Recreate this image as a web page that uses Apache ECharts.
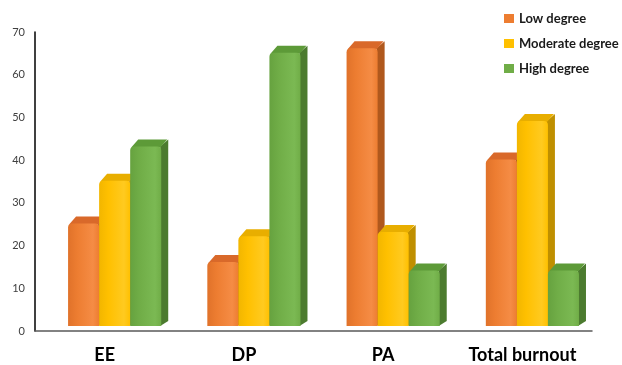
<!DOCTYPE html>
<html>
<head>
<meta charset="utf-8">
<script src="https://cdn.jsdelivr.net/npm/echarts@6/dist/echarts.min.js"></script>
<style>
html,body{margin:0;padding:0;background:#fff;}
#main{width:622px;height:365px;}
</style>
</head>
<body>
<div id="main"></div>
<script>
const categories = ['EE', 'DP', 'PA', 'Total burnout'];
const seriesNames = ['Low degree', 'Moderate degree', 'High degree'];
const lowDegree = [24, 15, 65, 39];
const moderateDegree = [34, 21, 22, 48];
const highDegree = [42, 64, 13, 13];

const palettes = [
  { base: '#ED7D31', light: '#F58C45', dark: '#E0722A', side: '#B0581D', top: '#D9692A' },
  { base: '#FFC000', light: '#FFCA20', dark: '#F2B600', side: '#BF8F00', top: '#E8AE00' },
  { base: '#70AD47', light: '#7BB953', dark: '#66A23F', side: '#4C7B2F', top: '#5D9A38' }
];

function makeRender(idx) {
  const pal = palettes[idx];
  return function (params, api) {
    const cat = api.value(0);
    const v = api.value(1);
    const base = api.coord([cat, 0]);
    const top = api.coord([cat, v]);
    const band = api.size([1, 0])[0];
    const w = band * 0.223;
    const shiftX = band * 0.072;
    const lift = 5;
    const d = 7;
    const x0 = base[0] + shiftX - 1.5 * w + idx * w;
    const x1 = x0 + w;
    const yB = base[1] - lift;
    const yT = top[1] - lift;
    const frontGrad = new echarts.graphic.LinearGradient(0, 0, 1, 0, [
      { offset: 0, color: pal.dark },
      { offset: 0.3, color: pal.base },
      { offset: 0.8, color: pal.light },
      { offset: 1, color: pal.base }
    ]);
    return {
      type: 'group',
      children: [
        {
          type: 'polygon',
          shape: { points: [[x1 - 1, yT], [x1 + d, yT - d], [x1 + d, yB - d + 2], [x1 - 1, yB]] },
          style: { fill: pal.side }
        },
        {
          type: 'polygon',
          shape: { points: [[x0 + 1, yT + 1], [x0 + d + 1, yT - d], [x1 + d - 1, yT - d], [x1 - 1, yT + 1]] },
          style: { fill: pal.top }
        },
        {
          type: 'rect',
          shape: { x: x0, y: yT, width: w, height: yB - yT, r: [4, 4, 0, 0] },
          style: { fill: frontGrad }
        }
      ]
    };
  };
}

const dataSets = [lowDegree, moderateDegree, highDegree];
const series = dataSets.map(function (arr, i) {
  return {
    name: seriesNames[i],
    type: 'custom',
    renderItem: makeRender(i),
    itemStyle: { color: palettes[i].base },
    encode: { x: 0, y: 1 },
    data: arr.map(function (v, j) { return [j, v]; }),
    z: 2 + i
  };
});

const chart = echarts.init(document.getElementById('main'), null, { renderer: 'canvas' });
chart.setOption({
  animation: false,
  backgroundColor: '#ffffff',
  grid: { left: 35, right: 30, top: 32, bottom: 34, containLabel: false },
  legend: {
    orient: 'vertical',
    left: 499,
    top: 6,
    icon: 'rect',
    itemWidth: 10,
    itemHeight: 9,
    itemGap: 10,
    data: seriesNames,
    textStyle: { fontFamily: 'Lato', fontWeight: 'bold', fontSize: 13, color: '#1a1a1a', lineHeight: 15 }
  },
  xAxis: {
    type: 'category',
    data: categories,
    axisTick: { show: false },
    axisLine: { lineStyle: { color: '#5a5a5a', width: 1.5 } },
    axisLabel: { interval: 0, hideOverlap: false, fontFamily: 'Lato', fontWeight: 'bold', fontSize: 18, color: '#000', margin: 15 },
    splitLine: { show: false }
  },
  yAxis: {
    type: 'value',
    min: 0,
    max: 70,
    interval: 10,
    axisLine: { show: true, lineStyle: { color: '#000', width: 1.5 } },
    axisTick: { show: false },
    splitLine: { show: false },
    axisLabel: { fontFamily: 'Lato', fontSize: 11, color: '#404040', margin: 10 }
  },
  series: series
});
</script>
</body>
</html>
